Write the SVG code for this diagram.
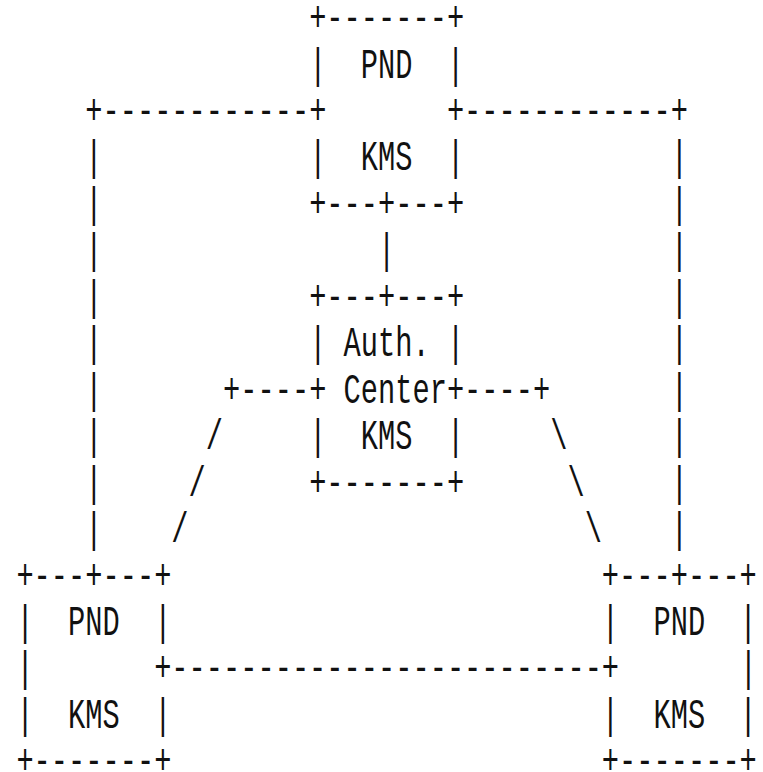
<svg xmlns="http://www.w3.org/2000/svg" width="763" height="772" viewBox="0 0 763 772" xml:space="preserve">
<style>
text{font-family:"Liberation Mono","DejaVu Sans Mono",monospace;font-size:43px;fill:#111;white-space:pre}
</style>
<rect width="763" height="772" fill="#fff"/>
<g id="connectors">
<text x="85.27" y="124" textLength="223.86" lengthAdjust="spacingAndGlyphs">+------------</text>
<text x="464.11" y="124" textLength="223.86" lengthAdjust="spacingAndGlyphs">------------+</text>
<text x="85.27" y="170.45" textLength="17.22" lengthAdjust="spacingAndGlyphs">|</text>
<text x="85.27" y="216.9" textLength="17.22" lengthAdjust="spacingAndGlyphs">|</text>
<text x="85.27" y="263.35" textLength="17.22" lengthAdjust="spacingAndGlyphs">|</text>
<text x="85.27" y="309.8" textLength="17.22" lengthAdjust="spacingAndGlyphs">|</text>
<text x="85.27" y="356.25" textLength="17.22" lengthAdjust="spacingAndGlyphs">|</text>
<text x="85.27" y="402.7" textLength="17.22" lengthAdjust="spacingAndGlyphs">|</text>
<text x="85.27" y="449.15" textLength="17.22" lengthAdjust="spacingAndGlyphs">|</text>
<text x="85.27" y="495.6" textLength="17.22" lengthAdjust="spacingAndGlyphs">|</text>
<text x="85.27" y="542.05" textLength="17.22" lengthAdjust="spacingAndGlyphs">|</text>
<text x="670.75" y="170.45" textLength="17.22" lengthAdjust="spacingAndGlyphs">|</text>
<text x="670.75" y="216.9" textLength="17.22" lengthAdjust="spacingAndGlyphs">|</text>
<text x="670.75" y="263.35" textLength="17.22" lengthAdjust="spacingAndGlyphs">|</text>
<text x="670.75" y="309.8" textLength="17.22" lengthAdjust="spacingAndGlyphs">|</text>
<text x="670.75" y="356.25" textLength="17.22" lengthAdjust="spacingAndGlyphs">|</text>
<text x="670.75" y="402.7" textLength="17.22" lengthAdjust="spacingAndGlyphs">|</text>
<text x="670.75" y="449.15" textLength="17.22" lengthAdjust="spacingAndGlyphs">|</text>
<text x="670.75" y="495.6" textLength="17.22" lengthAdjust="spacingAndGlyphs">|</text>
<text x="670.75" y="542.05" textLength="17.22" lengthAdjust="spacingAndGlyphs">|</text>
<text x="378.01" y="263.35" textLength="17.22" lengthAdjust="spacingAndGlyphs">|</text>
<text x="223.03" y="402.7" textLength="86.1" lengthAdjust="spacingAndGlyphs">+----</text>
<text x="464.11" y="402.7" textLength="86.1" lengthAdjust="spacingAndGlyphs">----+</text>
<text x="205.81" y="449.15" textLength="17.22" lengthAdjust="spacingAndGlyphs">/</text>
<text x="188.59" y="495.6" textLength="17.22" lengthAdjust="spacingAndGlyphs">/</text>
<text x="171.37" y="542.05" textLength="17.22" lengthAdjust="spacingAndGlyphs">/</text>
<text x="550.21" y="449.15" textLength="17.22" lengthAdjust="spacingAndGlyphs">\</text>
<text x="567.43" y="495.6" textLength="17.22" lengthAdjust="spacingAndGlyphs">\</text>
<text x="584.65" y="542.05" textLength="17.22" lengthAdjust="spacingAndGlyphs">\</text>
<text x="171.37" y="681.4" textLength="430.5" lengthAdjust="spacingAndGlyphs">-------------------------</text>
</g>
<g id="pnd-top">
<text x="309.13" y="31.1" textLength="154.98" lengthAdjust="spacingAndGlyphs">+-------+</text>
<text x="309.13" y="77.55" textLength="154.98" lengthAdjust="spacingAndGlyphs">|  PND  |</text>
<text x="309.13" y="124" textLength="17.22" lengthAdjust="spacingAndGlyphs">+</text>
<text x="446.89" y="124" textLength="17.22" lengthAdjust="spacingAndGlyphs">+</text>
<text x="309.13" y="170.45" textLength="154.98" lengthAdjust="spacingAndGlyphs">|  KMS  |</text>
<text x="309.13" y="216.9" textLength="154.98" lengthAdjust="spacingAndGlyphs">+---+---+</text>
</g>
<g id="auth-center">
<text x="309.13" y="309.8" textLength="154.98" lengthAdjust="spacingAndGlyphs">+---+---+</text>
<text x="309.13" y="356.25" textLength="154.98" lengthAdjust="spacingAndGlyphs">| Auth. |</text>
<text x="309.13" y="402.7" textLength="17.22" lengthAdjust="spacingAndGlyphs">+</text>
<text x="343.57" y="402.7" textLength="103.32" lengthAdjust="spacingAndGlyphs">Center</text>
<text x="446.89" y="402.7" textLength="17.22" lengthAdjust="spacingAndGlyphs">+</text>
<text x="309.13" y="449.15" textLength="154.98" lengthAdjust="spacingAndGlyphs">|  KMS  |</text>
<text x="309.13" y="495.6" textLength="154.98" lengthAdjust="spacingAndGlyphs">+-------+</text>
</g>
<g id="pnd-left">
<text x="16.39" y="588.5" textLength="154.98" lengthAdjust="spacingAndGlyphs">+---+---+</text>
<text x="16.39" y="634.95" textLength="154.98" lengthAdjust="spacingAndGlyphs">|  PND  |</text>
<text x="16.39" y="681.4" textLength="17.22" lengthAdjust="spacingAndGlyphs">|</text>
<text x="154.15" y="681.4" textLength="17.22" lengthAdjust="spacingAndGlyphs">+</text>
<text x="16.39" y="727.85" textLength="154.98" lengthAdjust="spacingAndGlyphs">|  KMS  |</text>
<text x="16.39" y="774.3" textLength="154.98" lengthAdjust="spacingAndGlyphs">+-------+</text>
</g>
<g id="pnd-right">
<text x="601.87" y="588.5" textLength="154.98" lengthAdjust="spacingAndGlyphs">+---+---+</text>
<text x="601.87" y="634.95" textLength="154.98" lengthAdjust="spacingAndGlyphs">|  PND  |</text>
<text x="601.87" y="681.4" textLength="17.22" lengthAdjust="spacingAndGlyphs">+</text>
<text x="739.63" y="681.4" textLength="17.22" lengthAdjust="spacingAndGlyphs">|</text>
<text x="601.87" y="727.85" textLength="154.98" lengthAdjust="spacingAndGlyphs">|  KMS  |</text>
<text x="601.87" y="774.3" textLength="154.98" lengthAdjust="spacingAndGlyphs">+-------+</text>
</g>
</svg>
